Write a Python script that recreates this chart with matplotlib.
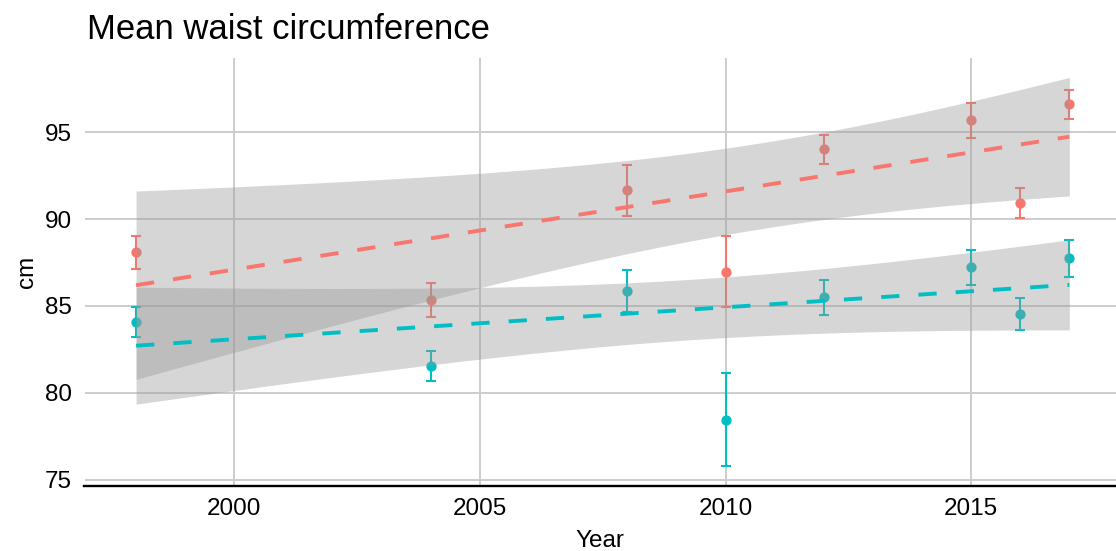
import numpy as np
import matplotlib
matplotlib.use("Agg")
import matplotlib.pyplot as plt

plt.rcParams["font.family"] = ["Liberation Sans", "DejaVu Sans"]

# Survey years and mean waist circumference (cm) with error bar half-widths
years = [1998, 2004, 2008, 2010, 2012, 2015, 2016, 2017]
group1_mean = [88.1, 85.35, 91.65, 86.97, 94.02, 95.69, 90.94, 96.61]
group1_err = [0.95, 1.0, 1.45, 2.05, 0.85, 1.0, 0.85, 0.82]
group2_mean = [84.06, 81.53, 85.88, 78.45, 85.5, 87.22, 84.54, 87.74]
group2_err = [0.86, 0.88, 1.2, 2.67, 1.0, 1.0, 0.9, 1.05]

y_ticks = [75, 80, 85, 90, 95]
x_ticks = [2000, 2005, 2010, 2015]

RED = "#F8766D"
TEAL = "#00BFC4"
T_975_DF6 = 2.446912  # Student t quantile, 97.5 %, 6 degrees of freedom


def weighted_fit(x, y, err, grid):
    """Inverse-variance weighted linear fit with a 95 % confidence band."""
    x = np.asarray(x, float)
    y = np.asarray(y, float)
    w = 1.0 / np.asarray(err, float) ** 2
    sw = w.sum()
    xb = (w * x).sum() / sw
    yb = (w * y).sum() / sw
    sxx = (w * (x - xb) ** 2).sum()
    slope = (w * (x - xb) * (y - yb)).sum() / sxx
    resid = y - (yb + slope * (x - xb))
    s2 = (w * resid ** 2).sum() / (len(x) - 2)
    fit = yb + slope * (grid - xb)
    se = np.sqrt(s2 * (1.0 / sw + (grid - xb) ** 2 / sxx))
    half = T_975_DF6 * se
    return fit, fit - half, fit + half


W, H = 1116, 551
fig = plt.figure(figsize=(W / 100, H / 100), dpi=100)
left_px, right_px, bottom_px, height_px = 84.5, 1116, 485.5, 427.5
ax = fig.add_axes([left_px / W, 1 - bottom_px / H,
                   (right_px - left_px) / W, height_px / H])

grid = np.linspace(min(years), max(years), 200)
lows, highs = [], []
for mean, err, col in [(group1_mean, group1_err, RED), (group2_mean, group2_err, TEAL)]:
    m = np.asarray(mean)
    e = np.asarray(err)
    ax.errorbar(years, m, yerr=e, fmt="none", ecolor=col, elinewidth=1.5,
                capsize=3.6, capthick=1.5, zorder=3)
    ax.plot(years, m, "o", color=col, markersize=7.4, markeredgewidth=0, zorder=3)
    fit, lo, hi = weighted_fit(years, m, e, grid)
    ax.fill_between(grid, lo, hi, color="#999999", alpha=0.4, linewidth=0, zorder=4)
    line, = ax.plot(grid, fit, color=col, linewidth=2.8, zorder=5,
                    solid_capstyle="butt", dash_capstyle="butt")
    line.set_dashes((4.7, 4.9))
    lows += [lo.min(), (m - e).min()]
    highs += [hi.max(), (m + e).max()]

ymin, ymax = min(lows), max(highs)
pad = 0.05 * (ymax - ymin)
ax.set_ylim(ymin - pad, ymax + pad)
ax.set_xlim(1996.95, 2017.95)

ax.set_xticks(x_ticks)
ax.set_yticks(y_ticks)
ax.tick_params(axis="both", length=0, labelsize=17.5, colors="black")
ax.tick_params(axis="y", pad=9)
ax.tick_params(axis="x", pad=9)
ax.grid(True, color="#CCCCCC", linewidth=1.4, zorder=0)
ax.set_axisbelow(True)
for side in ["top", "right", "left"]:
    ax.spines[side].set_visible(False)
ax.spines["bottom"].set_color("black")
ax.spines["bottom"].set_linewidth(1.7)
ax.spines["bottom"].set_zorder(6)

fig.text(87 / W, 1 - 39 / H, "Mean waist circumference", fontsize=24.9,
         ha="left", va="baseline")
fig.text(600 / W, 1 - 547 / H, "Year", fontsize=17.5, ha="center", va="baseline")
fig.text(33 / W, 1 - 271.7 / H, "cm", fontsize=17.5, rotation=90,
         rotation_mode="anchor", ha="center", va="baseline")

fig.savefig("out.png", dpi=100)
